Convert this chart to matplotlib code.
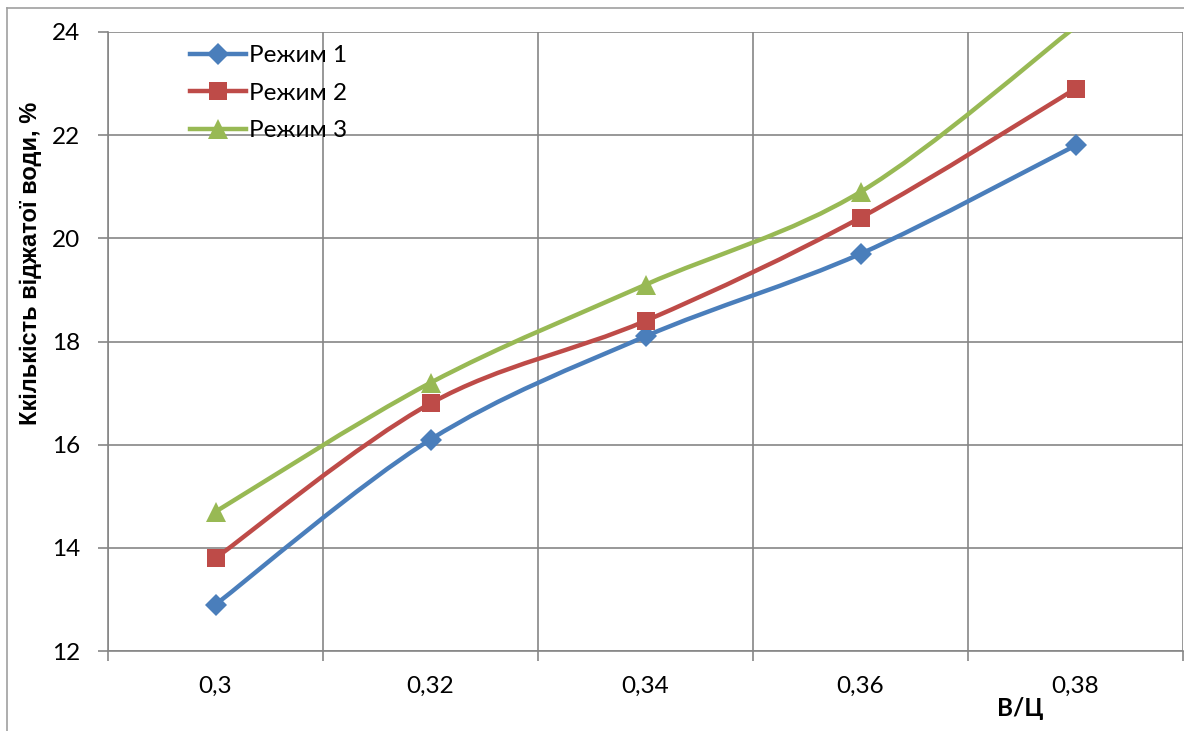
import matplotlib
matplotlib.use("Agg")
import matplotlib.pyplot as plt
import numpy as np
from matplotlib.path import Path
from matplotlib.patches import PathPatch
from matplotlib.lines import Line2D

plt.rcParams['font.family'] = ['Lato', 'DejaVu Sans']

# data
categories = ["0,3", "0,32", "0,34", "0,36", "0,38"]
rezhym_1 = [12.9, 16.1, 18.1, 19.7, 21.8]
rezhym_2 = [13.8, 16.8, 18.4, 20.4, 22.9]
rezhym_3 = [14.7, 17.2, 19.1, 20.9, 24.1]
series_names = ["Режим 1", "Режим 2", "Режим 3"]
y_ticks = [12, 14, 16, 18, 20, 22, 24]
y_min, y_max = 12, 24

colors = ["#4A7EBB", "#BE4B48", "#98B954"]
markers = ["D", "s", "^"]
msizes = [11, 13.5, 15]
fs = 17.5


def smooth_path(xs, ys, k=1 / 6):
    # cubic Bezier through the points (Catmull-Rom style control handles)
    pts = list(zip(xs, ys))
    verts = [pts[0]]
    codes = [Path.MOVETO]
    n = len(pts)
    for i in range(n - 1):
        p0 = pts[i - 1] if i > 0 else pts[i]
        p1 = pts[i]
        p2 = pts[i + 1]
        p3 = pts[i + 2] if i + 2 < n else pts[i + 1]
        c1 = (p1[0] + (p2[0] - p0[0]) * k, p1[1] + (p2[1] - p0[1]) * k)
        c2 = (p2[0] - (p3[0] - p1[0]) * k, p2[1] - (p3[1] - p1[1]) * k)
        verts += [c1, c2, p2]
        codes += [Path.CURVE4] * 3
    return Path(verts, codes)


W, H = 1184, 731
fig = plt.figure(figsize=(W / 100, H / 100), dpi=100)
ax = fig.add_axes([108 / W, 1 - 651 / H, (1183 - 108) / W, (651 - 32) / H])

x = list(range(len(categories)))
handles = []
for vals, name, c, m, ms in zip([rezhym_1, rezhym_2, rezhym_3], series_names,
                                 colors, markers, msizes):
    patch = PathPatch(smooth_path(x, vals), facecolor="none", edgecolor=c,
                      lw=3.2, capstyle="round", joinstyle="round", zorder=3)
    ax.add_patch(patch)
    # points beyond the axis range get no marker
    shown = np.ma.masked_outside(vals, y_min, y_max)
    ax.plot(x, shown, linestyle="none", marker=m, ms=ms, color=c,
            markeredgewidth=0, zorder=4)
    handles.append(Line2D([], [], color=c, lw=3.2, marker=m, ms=ms,
                          markeredgewidth=0, label=name))

ax.set_xlim(-0.5, len(categories) - 0.5)
ax.set_ylim(y_min, y_max)

# category gridlines sit between the points
bounds = [i - 0.5 for i in range(len(categories) + 1)]
ax.set_xticks(bounds)
ax.set_xticklabels([])
ax.set_xticks(x, minor=True)
ax.set_xticklabels(categories, minor=True, fontsize=fs)
ax.tick_params(axis="x", which="minor", length=0, pad=18)
ax.tick_params(axis="x", which="major", length=7, width=1.2, color="#868686")
ax.set_yticks(y_ticks)
ax.set_yticklabels([str(v) for v in y_ticks], fontsize=fs)
ax.tick_params(axis="y", length=7, width=1.2, color="#868686", pad=13)

ax.grid(True, which="major", color="#868686", lw=1.2)
ax.set_axisbelow(True)
for side in ["top", "right"]:
    ax.spines[side].set_visible(False)
for side in ["left", "bottom"]:
    ax.spines[side].set_color("#868686")
    ax.spines[side].set_linewidth(1.2)

fig.text(31 / W, 1 - 263 / H, "Ккількість віджатої води, %", rotation=90,
         ha="center", va="center", fontsize=17, fontweight="bold",
         family="Liberation Sans")
fig.text(1020 / W, 1 - 708 / H, "В/Ц", ha="center", va="center",
         fontsize=fs, fontweight="bold")

leg = ax.legend(handles=handles, loc="upper left",
                bbox_to_anchor=(190 / W, 1 - 45 / H),
                bbox_transform=fig.transFigure, frameon=False,
                fontsize=fs, handlelength=2.3, handletextpad=0.12,
                labelspacing=0.68, borderpad=0, borderaxespad=0)

# outer chart frame
fig.add_artist(Line2D([7 / W, 7 / W], [0, 1 - 8 / H], color="#A0A0A0",
                      lw=1.2, transform=fig.transFigure))
fig.add_artist(Line2D([7 / W, 1], [1 - 8 / H, 1 - 8 / H], color="#A0A0A0",
                      lw=1.2, transform=fig.transFigure))

fig.savefig("out.png", dpi=100)
